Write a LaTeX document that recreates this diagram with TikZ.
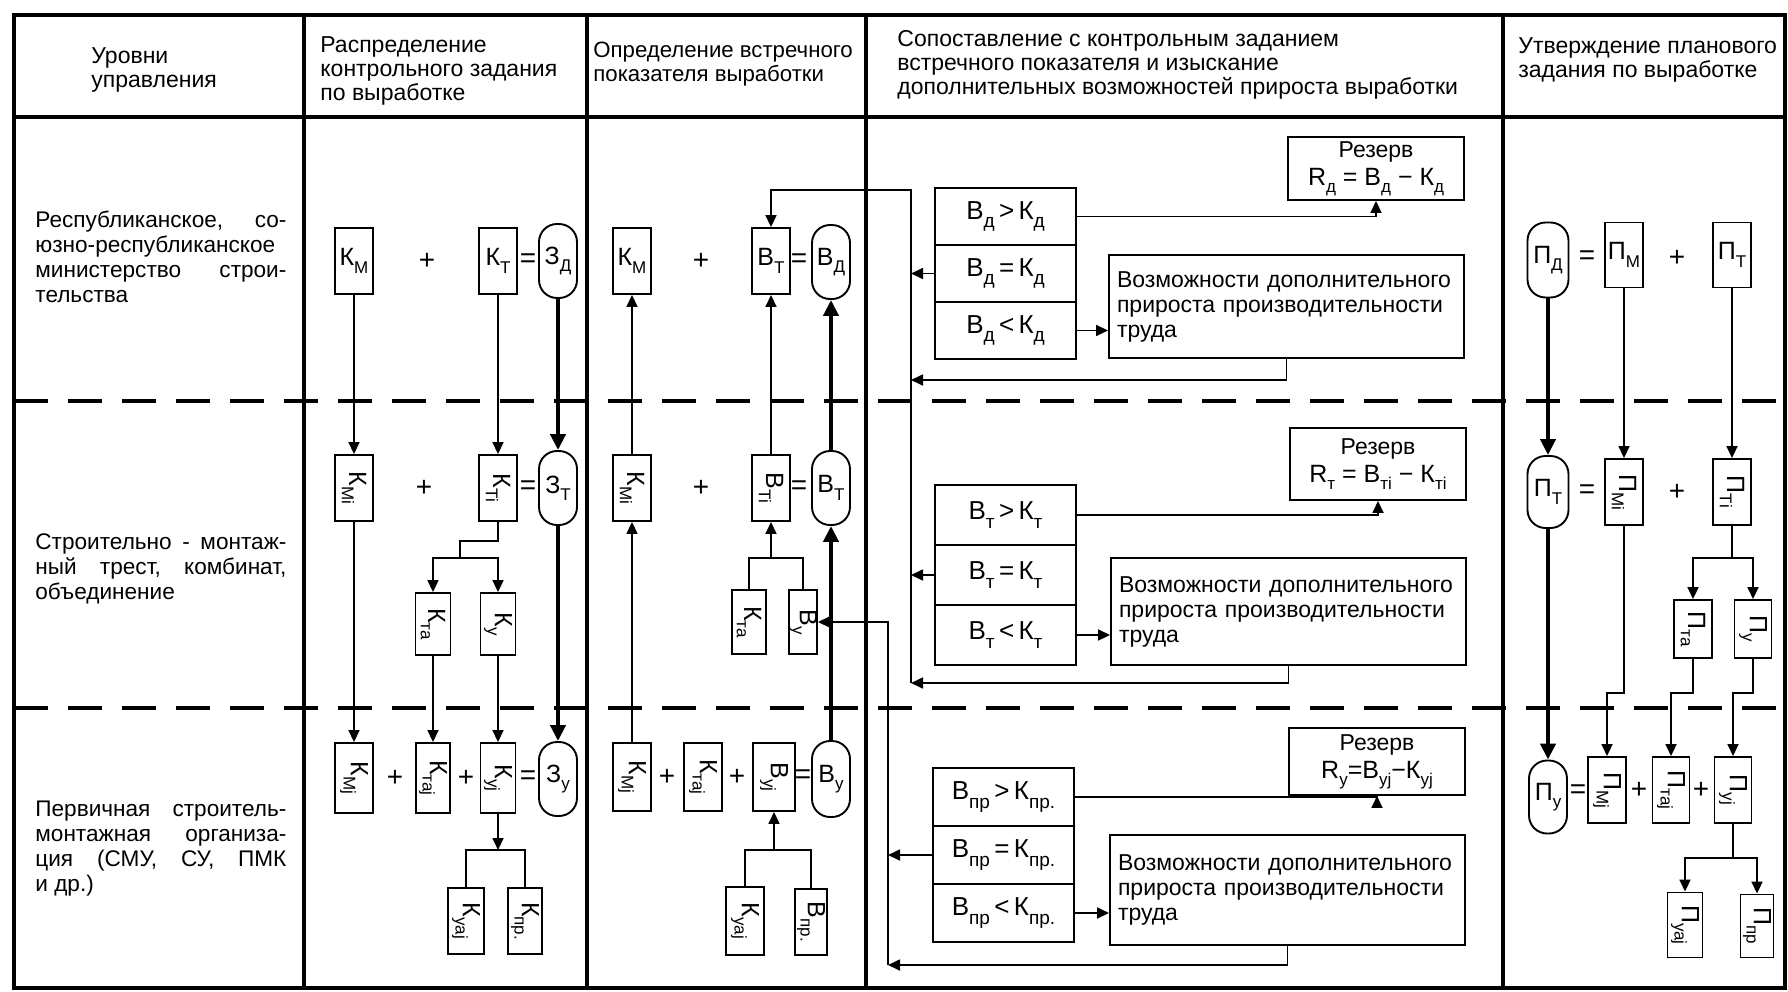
\documentclass[tikz,border=0pt]{standalone}
\usepackage{fontspec}
\usepackage{graphicx}
\setmainfont{Liberation Sans}
\usetikzlibrary{arrows.meta}
\newcommand\lsub[1]{\raisebox{-0.55ex}{\fontsize{8.5}{8.5}\selectfont #1}}
\newcommand\csub[1]{\raisebox{-0.6ex}{\fontsize{9.5}{9.5}\selectfont #1}}
\newcommand\rtx[1]{\rotatebox{-90}{#1}}
\newcommand\jl[1]{\hbox to 125.5pt{#1}}
\begin{document}
\begin{tikzpicture}[x=0.5pt,y=-0.5pt,
  bx/.style={draw, line width=0.95pt, inner sep=0pt, minimum width=19pt, minimum height=33pt, font=\fontsize{12.5}{12.5}\selectfont},
  st/.style={bx, rounded corners=9pt, minimum height=37pt},
  sg/.style={font=\fontsize{14}{14}\selectfont, inner sep=0pt},
  ln/.style={line width=0.85pt},
  ar/.style={ln, -{Triangle[length=6pt,width=5.5pt]}},
  tar/.style={line width=2.1pt, -{Triangle[length=8pt,width=7.5pt]}},
  frame/.style={line width=1.6pt},
  dsh/.style={line width=1.6pt, dash pattern=on 17pt off 10pt},
  hd/.style={font=\fontsize{11.5}{12}\selectfont, align=left, inner sep=0pt, anchor=west},
  lvl/.style={font=\fontsize{11.3}{12.5}\selectfont, align=left, inner sep=0pt, anchor=west},
  cmp/.style={draw, line width=0.95pt, inner sep=0pt, minimum width=70.5pt, font=\fontsize{13}{13}\selectfont},
  rz/.style={draw, line width=0.95pt, inner sep=0pt, minimum width=88pt, align=center, font=\fontsize{11.5}{14}\selectfont},
  vz/.style={draw, line width=0.95pt, inner xsep=4pt, inner ysep=0pt, text width=169.5pt, align=left, font=\fontsize{11.5}{12.5}\selectfont}
]
\useasboundingbox (0,0) rectangle (1788,991);
% frame
\draw[frame] (14,15) rectangle (1785,988);
\draw[frame] (14,117) -- (1785,117);
\foreach \x in {304,587,866,1503} \draw[frame] (\x,15) -- (\x,988);
\draw[dsh] (14,401) -- (1785,401);
\draw[dsh] (14,708) -- (1785,708);
% headers
\node[hd] (h1) at (91,70) {Уровни\\управления};
\node[hd] (h2) at (320,71) {Распределение\\контрольного задания\\по выработке};
\node[hd, font=\fontsize{11.1}{12}\selectfont] (h3) at (593,64) {Определение встречного\\показателя выработки};
\node[hd] (h4) at (897,65) {Сопоставление с контрольным заданием\\встречного показателя и изыскание\\дополнительных возможностей прироста выработки};
\node[hd] (h5) at (1518,60) {Утверждение планового\\задания по выработке};
% level texts
\node[lvl] (l1) at (35,257) {\jl{Республиканское,\hfill со-}\\\jl{юзно-республиканское\hfill}\\\jl{министерство\hfill строи-}\\тельства};
\node[lvl] (l2) at (35,569) {\jl{Строительно\hfill -\hfill монтаж-}\\\jl{ный\hfill трест,\hfill комбинат,}\\объединение};
\node[lvl] (l3) at (35,849) {\jl{Первичная\hfill строитель-}\\\jl{монтажная\hfill организа-}\\\jl{ция\hfill (СМУ,\hfill СУ,\hfill ПМК}\\и др.)};
% ---- column 2
\node[bx] (kM) at (354,261) {К\lsub{М}};
\node[sg] (pl1) at (427,261) {+};
\node[bx] (kT) at (498,261) {К\lsub{Т}};
\node[sg] (eq1) at (528,261) {=};
\node[st] (zD) at (558,261) {З\lsub{Д}};
\node[bx] (kMi) at (354,488) {\rtx{К\lsub{Мi}}};
\node[sg] (pl2) at (424,488) {+};
\node[bx] (kTi) at (498,488) {\rtx{К\lsub{Тi}}};
\node[sg] (eq2) at (528,488) {=};
\node[st] (zT) at (558,488) {З\lsub{Т}};
\node[bx, minimum width=17.5pt, minimum height=31pt] (kTa) at (433,624) {\rtx{К\lsub{та}}};
\node[bx, minimum width=17.5pt, minimum height=31pt] (kU) at (498,624) {\rtx{К\lsub{у}}};
\node[bx, minimum height=35pt] (kMj) at (354,778) {\rtx{К\lsub{Мj}}};
\node[sg] (pl3) at (395,778) {+};
\node[bx, minimum width=17pt, minimum height=35pt] (kTaj) at (433,778) {\rtx{К\lsub{таj}}};
\node[sg] (pl4) at (466,778) {+};
\node[bx, minimum width=17.5pt, minimum height=35pt] (kUj) at (498,778) {\rtx{К\lsub{уj}}};
\node[sg] (eq3) at (528,778) {=};
\node[st] (zU) at (558,779) {З\lsub{у}};
\node[bx, minimum width=18pt, minimum height=33pt] (kUaj) at (466,921) {\rtx{К\lsub{уаj}}};
\node[bx, minimum width=17pt, minimum height=33pt] (kPr) at (525,921) {\rtx{К\lsub{пр.}}};
\draw[ar] (kM.south) -- (kMi.north);
\draw[ar] (kMi.south) -- (kMj.north);
\draw[ar] (kT.south) -- (kTi.north);
\draw[tar] (zD.south) -- (zT.north);
\draw[tar] (zT.south) -- (zU.north);
\coordinate (b1) at (460,558);
\draw[ln] (kTi.south) -- ++(0,19) -| (b1);
\draw[ar] (b1) -| (kTa.north);
\draw[ar] (b1) -| (kU.north);
\draw[ar] (kTa.south) -- (kTaj.north);
\draw[ar] (kU.south) -- (kUj.north);
\coordinate (b2) at (498,850);
\draw[ar] (kUj.south) -- (b2);
\draw[ln] (b2) -| (kUaj.north);
\draw[ln] (b2) -| (kPr.north);
% ---- column 3
\node[bx] (vkM) at (632,261) {К\lsub{М}};
\node[sg] (pl5) at (701,261) {+};
\node[bx] (vT) at (771,261) {В\lsub{Т}};
\node[sg] (eq4) at (799,261) {=};
\node[st] (vD) at (831,262) {В\lsub{Д}};
\node[bx] (vkMi) at (632,488) {\rtx{К\lsub{Мi}}};
\node[sg] (pl6) at (701,488) {+};
\node[bx] (vTi) at (771,488) {\rtx{В\lsub{Тi}}};
\node[sg] (eq5) at (799,488) {=};
\node[st] (vT2) at (831,488) {В\lsub{Т}};
\node[bx, minimum width=17pt, minimum height=32pt] (vkTa) at (749,622) {\rtx{К\lsub{та}}};
\node[bx, minimum width=14pt, minimum height=32pt] (vU) at (803,622) {\rtx{В\lsub{у}}};
\node[bx, minimum height=34pt] (vkMj) at (632,777) {\rtx{К\lsub{Мj}}};
\node[sg] (pl7) at (667,777) {+};
\node[bx, minimum height=34pt] (vkTaj) at (703,777) {\rtx{К\lsub{таj}}};
\node[sg] (pl8) at (737,777) {+};
\node[bx, minimum width=21pt, minimum height=34pt] (vUj) at (774,777) {\rtx{В\lsub{уj}}};
\node[sg] (eq6) at (803,777) {=};
\node[st, minimum height=38pt] (vU2) at (831,779) {В\lsub{у}};
\node[bx, minimum width=19pt, minimum height=34pt] (vkUaj) at (745,921) {\rtx{К\lsub{уаj}}};
\node[bx, minimum width=16pt, minimum height=33pt] (vPr) at (811,922) {\rtx{В\lsub{пр.}}};
\draw[ar] (vkMi.north) -- (vkM.south);
\draw[ar] (vkMj.north) -- (vkMi.south);
\draw[ar] (vTi.north) -- (vT.south);
\draw[tar] (vT2.north) -- (vD.south);
\draw[tar] (vU2.north) -- (vT2.south);
\coordinate (b3) at (771,558);
\draw[ar] (b3) -- (vTi.south);
\draw[ln] (vkTa.north) |- (b3);
\draw[ln] (vU.north) |- (b3);
\coordinate (b4) at (774,850);
\draw[ar] (b4) -- (vUj.south);
\draw[ln] (vkUaj.north) |- (b4);
\draw[ln] (vPr.north) |- (b4);
% feedback lines
\coordinate (fA) at (911,190);
\coordinate (fB) at (911,683);
\coordinate (fr1) at (911,380);
\draw[ar] (fB) -- (fA) -| (vT.north);
\coordinate (gA) at (888,622);
\coordinate (gB) at (888,965);
\draw[ar] (gB) -- (gA) -- (vU.east);
% ---- column 4 top
\node[cmp, minimum height=28.5pt] (c1a) at (1005.5,216.5) {В\csub{д}\,>\,К\csub{д}};
\node[cmp, minimum height=28.5pt] (c1b) at (1005.5,273.5) {В\csub{д}\,=\,К\csub{д}};
\node[cmp, minimum height=28.5pt] (c1c) at (1005.5,330.5) {В\csub{д}\,<\,К\csub{д}};
\node[rz, minimum height=31.5pt] (r1) at (1376,168.5) {Резерв\\{\fontsize{12.5}{12.5}\selectfont R\lsub{д} = В\lsub{д} − К\lsub{д}}};
\node[vz, minimum height=51.5pt] (v1) at (1286.5,306.5) {Возможности дополнительного\\прироста производительности\\труда};
\draw[ar] (c1a.east) -| (r1.south);
\draw[ar] (c1c.east) -- (v1.west |- c1c.east);
\draw[ar] (c1b.west) -- (c1b.west -| fA);
\draw[ar] (v1.south) |- (fr1);
% ---- column 4 middle
\node[cmp, minimum height=30pt] (c2a) at (1005.5,515) {В\csub{т}\,>\,К\csub{т}};
\node[cmp, minimum height=30pt] (c2b) at (1005.5,575) {В\csub{т}\,=\,К\csub{т}};
\node[cmp, minimum height=30pt] (c2c) at (1005.5,635) {В\csub{т}\,<\,К\csub{т}};
\node[rz, minimum height=36pt] (r2) at (1378,464) {Резерв\\{\fontsize{12.5}{12.5}\selectfont R\lsub{т} = В\lsub{тi} − К\lsub{тi}}};
\node[vz, minimum height=53.5pt] (v2) at (1288.5,611.5) {Возможности дополнительного\\прироста производительности\\труда};
\draw[ar] (c2a.east) -| (r2.south);
\draw[ar] (c2c.east) -- (v2.west |- c2c.east);
\draw[ar] (c2b.west) -- (c2b.west -| fA);
\draw[ar] (v2.south) |- (fB);
% ---- column 4 bottom
\node[cmp, minimum height=29pt] (c3a) at (1003.5,797) {В\csub{пр}\,>\,К\csub{пр.}};
\node[cmp, minimum height=29pt] (c3b) at (1003.5,855) {В\csub{пр}\,=\,К\csub{пр.}};
\node[cmp, minimum height=29pt] (c3c) at (1003.5,913) {В\csub{пр}\,<\,К\csub{пр.}};
\node[rz, minimum height=33.5pt] (r3) at (1377,761.5) {Резерв\\{\fontsize{12.5}{12.5}\selectfont R\lsub{у}=В\lsub{уj}−К\lsub{уj}}};
\node[vz, minimum height=55pt] (v3) at (1287.5,890) {Возможности дополнительного\\прироста производительности\\труда};
\draw[ar] (c3a.east) -| (r3.south);
\draw[ar] (c3c.east) -- (v3.west |- c3c.east);
\draw[ar] (c3b.west) -- (c3b.west -| gA);
\draw[ar] (v3.south) |- (gB);
% ---- column 5
\node[st, minimum width=20.5pt, minimum height=37.5pt] (pD) at (1548,260) {П\lsub{Д}};
\node[sg] (eq7) at (1587,258) {=};
\node[bx, minimum height=32.5pt] (pM) at (1624,255) {П\lsub{М}};
\node[sg] (pl9) at (1677,258) {+};
\node[bx, minimum height=32.5pt] (pT) at (1732,255) {П\lsub{Т}};
\node[st, minimum width=20.5pt, minimum height=36pt] (pT2) at (1548,492) {П\lsub{Т}};
\node[sg] (eq8) at (1587,492) {=};
\node[bx] (pMi) at (1624,492) {\rtx{П\lsub{Мi}}};
\node[sg] (pl10) at (1677,492) {+};
\node[bx] (pTi) at (1732,492) {\rtx{П\lsub{Тi}}};
\node[bx, minimum width=19pt, minimum height=29pt] (pTa) at (1693,629) {\rtx{П\lsub{та}}};
\node[bx, minimum width=18.5pt, minimum height=29pt] (pU) at (1753,629) {\rtx{П\lsub{у}}};
\node[st, minimum width=19pt, minimum height=36.5pt] (pU2) at (1548,797) {П\lsub{у}};
\node[sg] (eq9) at (1578,792) {=};
\node[bx] (pMj) at (1607,790) {\rtx{П\lsub{Мj}}};
\node[sg] (pl11) at (1639,790) {+};
\node[bx, minimum width=18.5pt] (pTaj) at (1671,790) {\rtx{П\lsub{таj}}};
\node[sg] (pl12) at (1701,790) {+};
\node[bx, minimum width=18.5pt] (pUj) at (1733,790) {\rtx{П\lsub{уj}}};
\node[bx, minimum width=17.5pt, minimum height=32.5pt] (pUaj) at (1685,925) {\rtx{П\lsub{уаj}}};
\node[bx, minimum width=16.5pt, minimum height=31.5pt] (pPr) at (1757,926) {\rtx{П\lsub{пр}}};
\draw[tar] (pD.south) -- (pT2.north);
\draw[tar] (pT2.south) -- (pU2.north);
\draw[ar] (pM.south) -- (pMi.north);
\draw[ar] (pT.south) -- (pTi.north);
\coordinate (b5) at (1732,558);
\draw[ln] (pTi.south) -- (b5);
\draw[ar] (b5) -| (pTa.north);
\draw[ar] (b5) -| (pU.north);
\draw[ar] (pMi.south) -- ++(0,167) -| (pMj.north);
\draw[ar] (pTa.south) -- ++(0,34) -| (pTaj.north);
\draw[ar] (pU.south) -- ++(0,34) -| (pUj.north);
\coordinate (b6) at (1733,858);
\draw[ln] (pUj.south) -- (b6);
\draw[ar] (b6) -| (pUaj.north);
\draw[ar] (b6) -| (pPr.north);
\end{tikzpicture}
\end{document}
